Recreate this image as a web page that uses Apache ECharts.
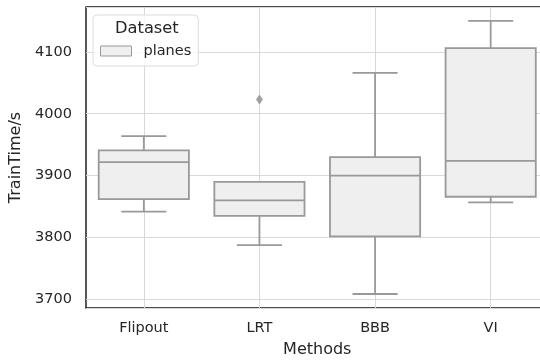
<!DOCTYPE html>
<html>
<head>
<meta charset="utf-8">
<script src="https://cdn.jsdelivr.net/npm/echarts@6/dist/echarts.min.js"></script>
<style>
	html, body { margin: 0; padding: 0; background: #fff; }
	#main { width: 540px; height: 360px; }
</style>
</head>
<body>
<div id="main"></div>
<script>
var categories = ['Flipout', 'LRT', 'BBB', 'VI'];
var lowerWhisker = [3842, 3788, 3709, 3857];
var q1 = [3862, 3835, 3802, 3866];
var median = [3922, 3860, 3900, 3924];
var q3 = [3941, 3890, 3930, 4106];
var upperWhisker = [3964, 3890, 4066, 4150];
var outlierCategories = ['LRT'];
var outlierValues = [4023];

var textColor = '#262626';
var edgeColor = '#999999';
var fillColor = '#efefef';

var boxData = categories.map(function(c, i) {
	return [i, lowerWhisker[i], q1[i], median[i], q3[i], upperWhisker[i]];
});
var outlierData = outlierCategories.map(function(c, i) {
	return [c, outlierValues[i]];
});

function renderBox(params, api) {
	var x = api.value(0);
	var band = api.size([1, 0])[0];
	var half = band * 0.78 / 2;
	var cap = half / 2;
	var pLow = api.coord([x, api.value(1)]);
	var pQ1 = api.coord([x, api.value(2)]);
	var pMed = api.coord([x, api.value(3)]);
	var pQ3 = api.coord([x, api.value(4)]);
	var pHigh = api.coord([x, api.value(5)]);
	var cx = pQ1[0];
	var line = { stroke: edgeColor, lineWidth: 1.8 };
	return {
		type: 'group',
		children: [
			{ type: 'line', shape: { x1: cx, y1: pQ3[1], x2: cx, y2: pHigh[1] }, style: line },
			{ type: 'line', shape: { x1: cx - cap, y1: pHigh[1], x2: cx + cap, y2: pHigh[1] }, style: line },
			{ type: 'line', shape: { x1: cx, y1: pQ1[1], x2: cx, y2: pLow[1] }, style: line },
			{ type: 'line', shape: { x1: cx - cap, y1: pLow[1], x2: cx + cap, y2: pLow[1] }, style: line },
			{
				type: 'rect',
				shape: { x: cx - half, y: pQ3[1], width: half * 2, height: pQ1[1] - pQ3[1] },
				style: { fill: fillColor, stroke: edgeColor, lineWidth: 1.8 }
			},
			{ type: 'line', shape: { x1: cx - half, y1: pMed[1], x2: cx + half, y2: pMed[1] }, style: line }
		]
	};
}

var myChart = echarts.init(document.getElementById('main'));
var option = {
	animation: false,
	textStyle: { fontFamily: 'DejaVu Sans' },
	grid: {
		left: 86, right: -8.5, top: 7, bottom: 52,
		outerBoundsMode: 'none',
		containLabel: false,
		show: true, borderColor: '#111111', borderWidth: 1.4
	},
	legend: {
		left: 93, top: 15,
		padding: [28, 7, 7, 7],
		backgroundColor: 'rgba(255,255,255,0.8)',
		borderColor: '#dcdcdc', borderWidth: 1, borderRadius: 4,
		itemWidth: 31, itemHeight: 10,
		textStyle: { color: textColor, fontSize: 14.5, padding: [0, 0, 0, 7], lineHeight: 16 },
		data: [{
			name: 'planes', icon: 'rect',
			itemStyle: { color: fillColor, borderColor: edgeColor, borderWidth: 1 }
		}]
	},
	graphic: [{
		type: 'text', left: 115, top: 20.5, z: 100,
		style: { text: 'Dataset', fill: textColor, font: '16.3px "DejaVu Sans"' }
	}],
	xAxis: {
		type: 'category',
		data: categories,
		boundaryGap: true,
		name: 'Methods',
		nameLocation: 'middle',
		nameGap: 33.5,
		nameTextStyle: { color: textColor, fontSize: 16 },
		axisLine: { show: false },
		axisTick: { show: false },
		axisLabel: { color: textColor, fontSize: 14.5, margin: 12.5 },
		splitLine: { show: true, alignWithLabel: true, lineStyle: { color: '#d9d9d9', width: 1 } }
	},
	yAxis: {
		type: 'value',
		min: 3686.4,
		max: 4172.3,
		splitNumber: 5,
		name: 'TrainTime/s',
		nameLocation: 'middle',
		nameGap: 54,
		nameTextStyle: { color: textColor, fontSize: 16 },
		axisLine: { show: false },
		axisTick: { show: false },
		axisLabel: {
			color: textColor, fontSize: 14.5, margin: 14,
			showMinLabel: false, showMaxLabel: false,
			formatter: function(v) { return String(v); }
		},
		splitLine: { show: true, lineStyle: { color: '#d9d9d9', width: 1 } }
	},
	series: [{
		name: 'planes',
		type: 'custom',
		renderItem: renderBox,
		itemStyle: { color: fillColor, borderColor: edgeColor },
		encode: { x: 0, y: [1, 2, 3, 4, 5] },
		data: boxData
	}, {
		name: 'outliers',
		type: 'scatter',
		symbol: 'diamond',
		symbolSize: [7, 10],
		itemStyle: { color: '#8c8c8c' },
		data: outlierData
	}]
};
myChart.setOption(option);
</script>
</body>
</html>
